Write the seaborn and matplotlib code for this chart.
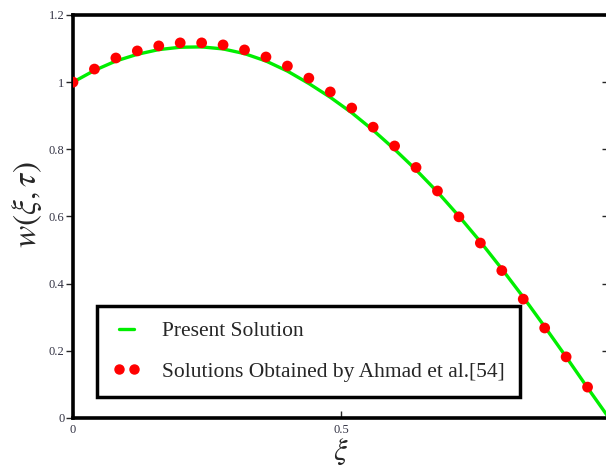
import numpy as np
import pandas as pd
import matplotlib
matplotlib.use("Agg")
import matplotlib.pyplot as plt
import seaborn as sns
from matplotlib.lines import Line2D

# Data
xi_points = [0.00, 0.04, 0.08, 0.12, 0.16, 0.20, 0.24, 0.28, 0.32, 0.36, 0.40, 0.44,
             0.48, 0.52, 0.56, 0.60, 0.64, 0.68, 0.72, 0.76, 0.80, 0.84, 0.88, 0.92, 0.96]
w_ahmad = [1.000, 1.039, 1.072, 1.093, 1.108, 1.117, 1.117, 1.111, 1.096, 1.075, 1.048, 1.012,
           0.971, 0.923, 0.866, 0.810, 0.746, 0.676, 0.599, 0.521, 0.439, 0.354, 0.268, 0.182, 0.092]

xi_curve = [0.00, 0.04, 0.08, 0.12, 0.16, 0.20, 0.24, 0.28, 0.32, 0.36, 0.40, 0.44, 0.48,
            0.52, 0.56, 0.60, 0.64, 0.68, 0.72, 0.76, 0.80, 0.84, 0.88, 0.92, 0.96, 1.00]
w_present = [1.000, 1.035, 1.063, 1.083, 1.097, 1.104, 1.105, 1.099, 1.085, 1.063, 1.033, 0.996, 0.955,
             0.909, 0.857, 0.800, 0.739, 0.673, 0.601, 0.525, 0.444, 0.360, 0.272, 0.182, 0.090, 0.000]

y_ticks = [0, 0.2, 0.4, 0.6, 0.8, 1.0, 1.2]
y_tick_labels = ["0", "0.2", "0.4", "0.6", "0.8", "1", "1.2"]
x_ticks = [0, 0.5]
x_tick_labels = ["0", "0.5"]

sns.set_style("white")
plt.rcParams['font.family'] = ['Liberation Serif', 'DejaVu Serif']
plt.rcParams['mathtext.fontset'] = 'stix'

fig = plt.figure(figsize=(6.06, 4.68), dpi=100)
ax = fig.add_axes([73/606, 1-418/468, 536/606, 403/468])

df_line = pd.DataFrame({"xi": xi_curve, "w": w_present})
df_pts = pd.DataFrame({"xi": xi_points, "w": w_ahmad})

sns.lineplot(data=df_line, x="xi", y="w", ax=ax, color="#00ee00", linewidth=2.4, zorder=2)
sns.scatterplot(data=df_pts, x="xi", y="w", ax=ax, color="#ff0000", s=60, edgecolor="none", zorder=3)

ax.set_xlim(0, 1)
ax.set_ylim(0, 1.2)
ax.set_yticks(y_ticks)
ax.set_yticklabels(y_tick_labels)
ax.set_xticks(x_ticks)
ax.set_xticklabels(x_tick_labels)
ax.tick_params(axis='y', direction='out', length=5, width=1, labelsize=9, labelcolor='#333344', pad=1,
               right=True, left=True)
ax.tick_params(axis='x', direction='in', length=5, width=1, labelsize=9, labelcolor='#333344', pad=4,
               bottom=True)
for t in ax.yaxis.get_major_ticks():
    t.tick2line.set_marker(matplotlib.lines.TICKLEFT)
    t.tick2line.set_markersize(5)

for s in ['left', 'top', 'bottom']:
    ax.spines[s].set_linewidth(2.6)
    ax.spines[s].set_color('black')
ax.spines['right'].set_visible(False)

ax.set_xlabel(r'$\xi$', fontsize=22, labelpad=1)
ax.set_ylabel(r'$w(\xi,\tau)$', fontsize=24)
ax.yaxis.set_label_coords(-0.055, (418-205)/403)

handles = [Line2D([], [], color="#00ee00", linewidth=2.4),
           Line2D([], [], color="#ff0000", marker='o', linestyle='none', markersize=6.5)]
leg = ax.legend(handles, ["Present Solution", "Solutions Obtained by Ahmad et al.[54]"],
                loc='lower left', bbox_to_anchor=(0.045, 0.052), fancybox=False, framealpha=1,
                edgecolor='black', fontsize=15.5, handlelength=1.3, handletextpad=1.0,
                borderpad=0.7, borderaxespad=0, labelspacing=0.95, numpoints=2)
leg.get_frame().set_linewidth(2.5)

fig.savefig("out.png", dpi=100)
